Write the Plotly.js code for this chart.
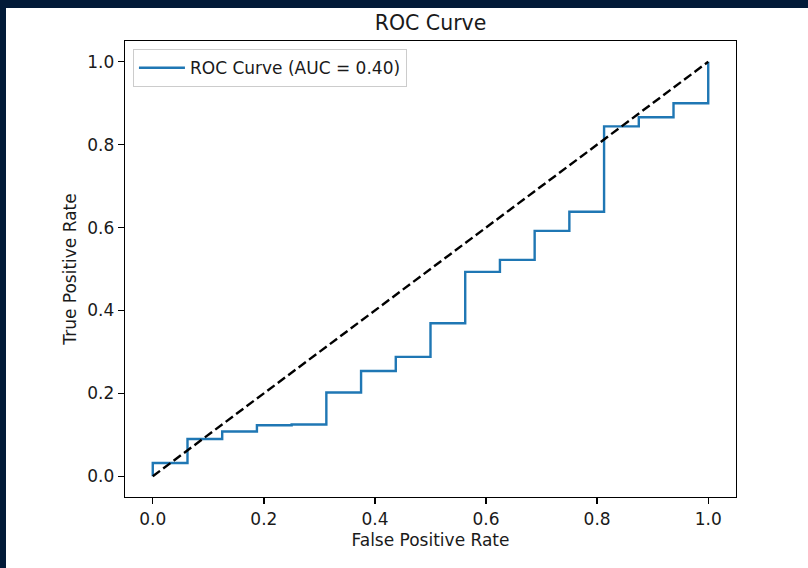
<!DOCTYPE html>
<html>
<head>
<meta charset="utf-8">
<script src="https://cdn.plot.ly/plotly-3.0.1.min.js"></script>
<style>
  html, body { margin: 0; padding: 0; background: #021a38; width: 808px; height: 568px; overflow: hidden; }
  #chart { position: absolute; left: 6px; top: 8px; width: 802px; height: 560px; background: #ffffff; }
</style>
</head>
<body>
<div id="chart"></div>
<script>
// ROC curve corner points (false positive rate, true positive rate)
const fpr = [0, 0, 0.0625, 0.0625, 0.125, 0.125, 0.1875, 0.1875, 0.25, 0.25,
             0.3125, 0.3125, 0.375, 0.375, 0.4375, 0.4375, 0.5, 0.5, 0.5625, 0.5625,
             0.625, 0.625, 0.6875, 0.6875, 0.75, 0.75, 0.8125, 0.8125, 0.875, 0.875,
             0.9375, 0.9375, 1.0, 1.0];
const tpr = [0, 0.032, 0.032, 0.090, 0.090, 0.108, 0.108, 0.123, 0.123, 0.125,
             0.125, 0.202, 0.202, 0.254, 0.254, 0.288, 0.288, 0.369, 0.369, 0.493,
             0.493, 0.522, 0.522, 0.592, 0.592, 0.638, 0.638, 0.844, 0.844, 0.866,
             0.866, 0.900, 0.900, 1.0];
const aucValue = 0.40;

// chance diagonal
const chanceX = [0, 1];
const chanceY = [0, 1];

const tickVals = [0, 0.2, 0.4, 0.6, 0.8, 1.0];
const tickText = ['0.0', '0.2', '0.4', '0.6', '0.8', '1.0'];

const FONT = 'DejaVu Sans, sans-serif';
const INK = '#1a1a1a';

const traces = [
  {
    x: fpr, y: tpr, type: 'scatter', mode: 'lines',
    name: 'ROC Curve (AUC = ' + aucValue.toFixed(2) + ')',
    line: { color: '#1f77b4', width: 2.4 }
  },
  {
    x: chanceX, y: chanceY, type: 'scatter', mode: 'lines',
    showlegend: false,
    line: { color: '#000000', width: 2.4, dash: '9px,4px' }
  }
];

const axisCommon = {
  showgrid: false, zeroline: false,
  showline: true, linecolor: '#000000', linewidth: 1.3, mirror: true,
  ticks: 'outside', ticklen: 6, tickwidth: 1.3, tickcolor: '#000000',
  tickvals: tickVals, ticktext: tickText,
  tickfont: { family: FONT, size: 17, color: INK },
  automargin: false
};

const layout = {
  width: 802, height: 560,
  paper_bgcolor: '#ffffff', plot_bgcolor: '#ffffff',
  margin: { l: 119, r: 72, t: 33, b: 71 },
  font: { family: FONT, color: INK },
  title: {
    text: 'ROC Curve', font: { family: FONT, size: 20.5, color: INK },
    x: 0.5, xref: 'paper', xanchor: 'center', y: 0.973, yref: 'container', yanchor: 'middle'
  },
  xaxis: Object.assign({}, axisCommon, {
    range: [-0.05, 1.05], ticklabelstandoff: 0,
    title: { text: 'False Positive Rate', font: { family: FONT, size: 17, color: INK }, standoff: 6 }
  }),
  yaxis: Object.assign({}, axisCommon, {
    range: [-0.05, 1.05], ticklabelstandoff: 0,
    title: { text: 'True Positive Rate', font: { family: FONT, size: 17, color: INK }, standoff: 6 }
  }),
  showlegend: true,
  legend: {
    x: 0.013, y: 0.982, xanchor: 'left', yanchor: 'top',
    bgcolor: 'rgba(255,255,255,0.8)', bordercolor: '#cccccc', borderwidth: 1,
    itemwidth: 46,
    font: { family: FONT, size: 17, color: INK }
  }
};

Plotly.newPlot('chart', traces, layout, { displayModeBar: false, staticPlot: true });
</script>
</body>
</html>
